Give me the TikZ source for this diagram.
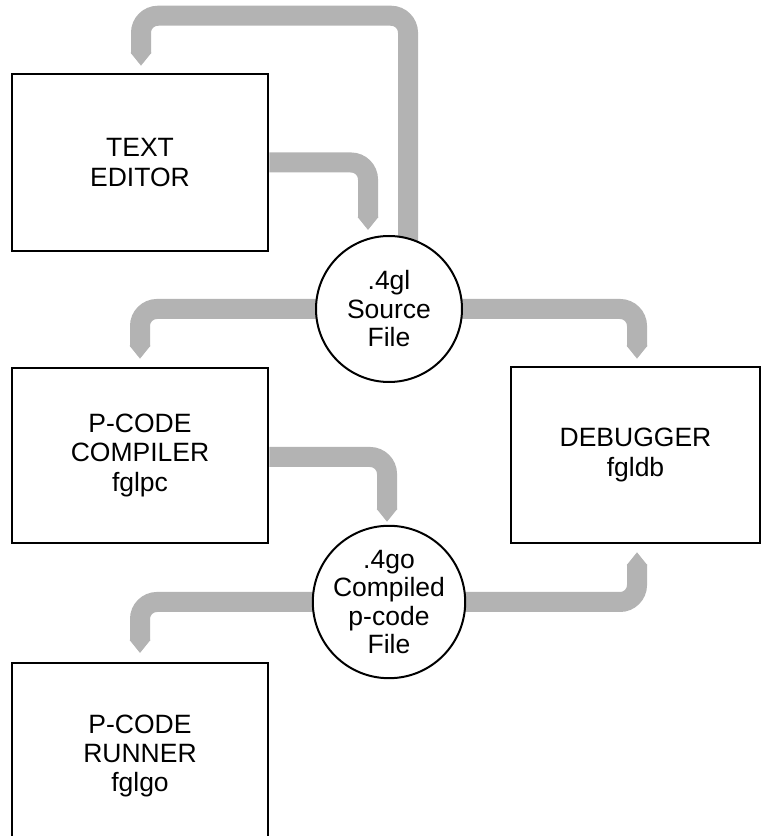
\documentclass[tikz,border=0pt]{standalone}
\usepackage{fontspec}
\setmainfont{Liberation Sans}
\usetikzlibrary{arrows.meta,backgrounds}
\definecolor{flowgray}{RGB}{179,179,179}
\tikzset{
  proc/.style={draw=black, line width=2.5pt, fill=white, minimum width=256pt,
    minimum height=176pt, inner sep=0pt, align=center,
    font=\fontsize{26.5}{29.2}\selectfont},
  store/.style={circle, draw=black, line width=2pt, fill=white,
    minimum size=146pt, inner sep=0pt, align=center,
    font=\fontsize{26.5}{28.5}\selectfont},
  flow/.style={draw=flowgray, line width=20pt, rounded corners=17pt,
    -{Triangle[width=20pt,length=13pt]}},
}
\begin{document}
\begin{tikzpicture}[x=1pt,y=1pt]
\useasboundingbox (0,0) rectangle (762,836);

% processes
\node[proc, minimum height=177pt] (editor) at (140,673.5) {TEXT\\EDITOR};
\node[proc, minimum height=175pt] (compiler) at (140,380.5) {P-CODE\\COMPILER\\fglpc};
\node[proc, minimum width=249pt] (debugger) at (635.5,381) {DEBUGGER\\fgldb};
\node[proc, anchor=north, minimum height=186pt] (runner) at (140,174) {P-CODE\\RUNNER\\fglgo};

% data stores
\node[store] (src) at (389,527) {.4gl\\Source\\File};
\node[store] (pco) at (389,234) {.4go\\Compiled\\p-code\\File};

% data flows, behind the shapes
\begin{scope}[on background layer]
  \draw[flow] (editor.east) -| ([xshift=-21pt,yshift=5pt]src.north);
  \draw[flow] ([xshift=19pt]src.center) |- ([xshift=1pt,yshift=57pt]editor.north)
              -- ([xshift=1pt,yshift=7pt]editor.north);
  \draw[flow] (src.center) -| ([yshift=8pt]compiler.north);
  \draw[flow] (src.center) -| ([xshift=1.5pt,yshift=7pt]debugger.north);
  \draw[flow] ([yshift=-1.5pt]compiler.east) -| ([xshift=-2pt,yshift=3pt]pco.north);
  \draw[flow] (pco.center) -| ([yshift=9pt]runner.north);
  \draw[flow] (pco.center) -| ([xshift=1.5pt,yshift=-8pt]debugger.south);
\end{scope}
\end{tikzpicture}
\end{document}
